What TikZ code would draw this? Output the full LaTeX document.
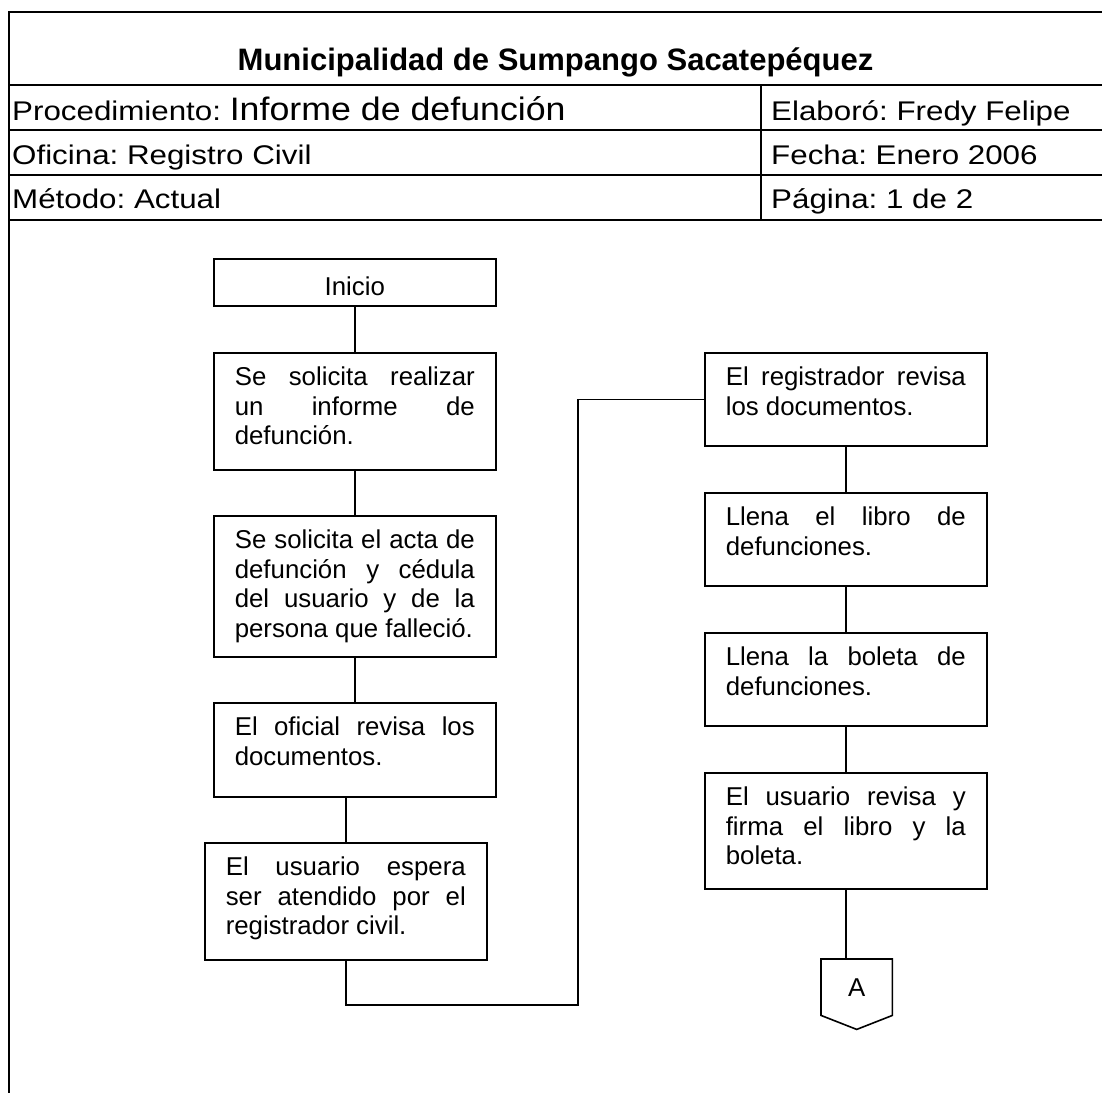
\documentclass[tikz,border=0pt]{standalone}
\usepackage{fontspec}
\setmainfont{Liberation Sans}
\newfontfamily\headfont{Liberation Sans}[FakeStretch=1.16]
\newfontfamily\procfont{Liberation Sans}[FakeStretch=1.1]
\usetikzlibrary{calc}
\frenchspacing

% justified, top-aligned text block for a process box of a given height
\newcommand\steptext[2]{\parbox[c][#1pt][t]{240pt}{\fontsize{25.8pt}{29.5pt}\selectfont\rule{0pt}{33pt}#2}}

\begin{document}
\begin{tikzpicture}[x=1pt,y=-1pt,
  frame/.style={line width=2pt, line join=miter},
  stepbox/.style={draw, line width=1.6pt, inner xsep=21pt, inner ysep=0pt, anchor=north west},
  link/.style={line width=1.6pt},
  hd/.style={inner sep=0pt, anchor=base west, font=\headfont\fontsize{27pt}{30pt}\selectfont}]
\useasboundingbox (0,0) rectangle (1102,1093);

% header table
\draw[frame] (1102,12) -- (9,12) -- (9,1093);
\foreach \yy in {85,130,175,220} \draw[frame] (9,\yy) -- (1102,\yy);
\draw[frame] (761,85) -- (761,220);

\node[anchor=base, inner sep=0pt, font=\bfseries\fontsize{31pt}{31pt}\selectfont] (title) at (555.5,70) {Municipalidad de Sumpango Sacatepéquez};
\node[hd] (proc) at (12,120) {Procedimiento: {\procfont\fontsize{32.5pt}{33pt}\selectfont Informe de defunción}};
\node[hd] (ofi) at (12,164) {Oficina: Registro Civil};
\node[hd] (met) at (12,208) {Método: Actual};
\node[hd] (elab) at (771,120) {Elaboró: Fredy Felipe};
\node[hd] (fecha) at (771,164) {Fecha: Enero 2006};
\node[hd] (pag) at (771,208) {Página: 1 de 2};

% process boxes
\node[draw, line width=1.6pt, anchor=north west, minimum width=282pt, minimum height=47pt, inner sep=0pt, text height=25.5pt, text depth=0pt, font=\fontsize{25.8pt}{29.5pt}\selectfont] (inicio) at (213,258) {Inicio};
\node[stepbox] (s1) at (213,352) {\steptext{117}{Se solicita realizar\linebreak un informe de\linebreak defunción.}};
\node[stepbox] (s2) at (213,515) {\steptext{141}{Se solicita el acta de\linebreak defunción y cédula\linebreak del usuario y de la\linebreak persona que falleció.}};
\node[stepbox] (s3) at (213,702) {\steptext{94}{El oficial revisa los\linebreak documentos.}};
\node[stepbox] (s4) at (204,842) {\steptext{117}{El usuario espera\linebreak ser atendido por el\linebreak registrador civil.}};
\node[stepbox] (s5) at (704,352) {\steptext{93}{El registrador revisa\linebreak los documentos.}};
\node[stepbox] (s6) at (704,492) {\steptext{93}{Llena el libro de\linebreak defunciones.}};
\node[stepbox] (s7) at (704,632) {\steptext{93}{Llena la boleta de\linebreak defunciones.}};
\node[stepbox] (s8) at (704,772) {\steptext{116}{El usuario revisa y\linebreak firma el libro y la\linebreak boleta.}};

% off-page connector
\node[minimum width=71pt, minimum height=56pt, inner sep=0pt, anchor=north west, font=\fontsize{25.8pt}{29.5pt}\selectfont] (offA) at (821,959) {A};
\draw[line width=1.6pt, line join=miter] (offA.north west) -- (offA.north east) -- (offA.south east) -- ($(offA.south)+(0,14)$) -- (offA.south west) -- cycle;

% connectors
\draw[link] (inicio.south) -- (s1.north);
\draw[link] (s1.south) -- (s2.north);
\draw[link] (s2.south) -- (s3.north);
\draw[link] (s3.south -| s4.north) -- (s4.north);
\coordinate (turn) at (578,1005);
\draw[link] (s4.south) |- (turn) |- (s5.west);
\draw[link] (s5.south) -- (s6.north);
\draw[link] (s6.south) -- (s7.north);
\draw[link] (s7.south) -- (s8.north);
\draw[link] (s8.south) -- (s8.south |- offA.north);
\end{tikzpicture}
\end{document}
